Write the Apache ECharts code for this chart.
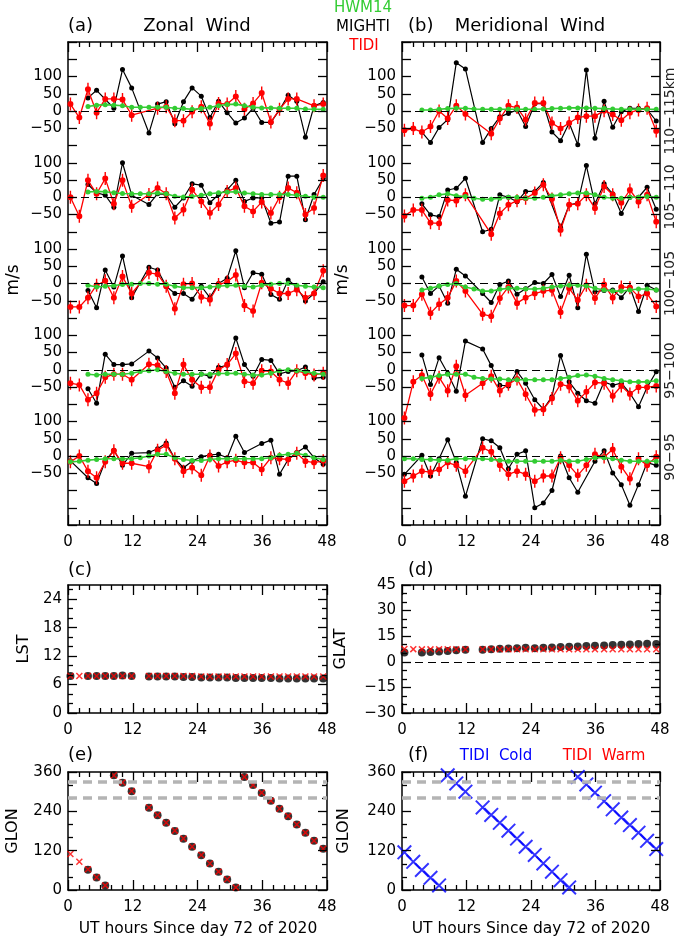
<!DOCTYPE html>
<html><head><meta charset="utf-8">
<script src="https://cdn.jsdelivr.net/npm/echarts@6/dist/echarts.min.js"></script>
<style>html,body{margin:0;padding:0;background:#fff}#c{width:676px;height:940px}</style>
</head><body><div id="c"></div>
<script>
// ---------------- DATA ----------------
const utHours = [0.45, 2.1, 3.7, 5.3, 6.9, 8.5, 10.1, 11.8, 13.4, 15.0, 16.6, 18.2, 19.8, 21.4, 23.0, 24.7, 26.3, 27.9, 29.5, 31.1, 32.7, 34.3, 35.9, 37.6, 39.2, 40.8, 42.4, 44.0, 45.6, 47.3];
const bandNames = ['90\u221295', '95\u2212100', '100\u2212105', '105\u2212110', '110\u2212115km']; // bottom -> top
const bandLabelValues = [-50, 0, 50, 100];
// tick marks
const xMajorTicks = [0, 12, 24, 36, 48];
const xAllTicks = [0, 2, 4, 6, 8, 10, 12, 14, 16, 18, 20, 22, 24, 26, 28, 30, 32, 34, 36, 38, 40, 42, 44, 46, 48];
const windYTicks = [-200, -150, -100, -50, 0, 50, 100, 150, 200, 250, 300, 350, 400, 450, 500, 550, 600, 650, 700, 750, 800, 850, 900, 950, 1000, 1050, 1100, 1150, 1200];
const lstMajor = [0, 6, 12, 18, 24];
const lstTicks = [0, 2, 4, 6, 8, 10, 12, 14, 16, 18, 20, 22, 24, 26];
const glatMajor = [-30, -15, 0, 15, 30, 45];
const glatTicks = [-30, -25, -20, -15, -10, -5, 0, 5, 10, 15, 20, 25, 30, 35, 40, 45];
const glonMajor = [0, 120, 240, 360];
const glonTicks = [0, 40, 80, 120, 160, 200, 240, 280, 320, 360];

// Zonal wind (panel a)
const zonalMIGHTI_110_115 = [null, null, 38, 60, null, 8, 120, 67, null, -64, 20, 27, -37, 27, 67, 43, -19, 28, -5, -35, -20, 8, -33, -33, 3, 46, 28, -76, 15, 25];
const zonalTIDI_110_115   = [20, -19, 63, -5, 35, 35, 33, -12, null, null, 8, 12, -28, -28, -2, 12, -37, 22, 20, 42, 5, 22, 52, -32, 5, 35, 35, null, 15, 20];
const zonalHWM_110_115    = [null, null, 13, 17, 18, 17, 15, 11, 11, 11, 11, 11, 8, 7, 5, 7, 11, 15, 19, 20, 15, 11, 9, 9, 8, 8, 8, 6, 5, 5];

const zonalMIGHTI_105_110 = [null, null, 37, 13, 6, -29, 100, 6, null, -21, 10, 8, -29, -2, 39, 35, -16, 8, 22, 49, -12, -2, -2, -75, -72, 61, 61, -65, 8, 54];
const zonalTIDI_105_110   = [0, -55, 49, 10, 54, -19, 49, -26, null, 8, 27, 10, -60, -36, 22, -12, -46, -21, 17, 27, -26, -41, -14, -46, 0, 27, 13, -50, -31, 63];
const zonalHWM_105_110    = [null, null, 15, 17, 16, 13, 11, 10, 10, 10, 12, 10, 3, 1, 2, 6, 10, 13, 15, 16, 12, 10, 8, 8, 8, 8, 6, 3, 0, 0];

const zonalMIGHTI_100_105 = [null, null, -20, -70, 39, -10, 80, -41, null, 47, 39, -8, -29, -29, -46, -8, -41, 0, 15, 95, -12, 31, 27, -32, -46, 10, -10, -51, -29, 5];
const zonalTIDI_100_105   = [-68, -68, -41, -5, 8, -41, 20, -29, null, 31, 27, -8, -73, -2, 0, -39, -47, -3, 5, 25, -64, -80, 2, -15, -29, -29, -18, -41, -29, 37];
const zonalHWM_100_105    = [null, null, -5, -10, -8, -6, -3, -2, 0, 0, -2, -2, -8, -12, -12, -12, -10, -8, -6, -5, -8, -10, -5, -2, 0, 0, -5, -8, -10, -12];

const zonalMIGHTI_95_100  = [null, null, -55, -97, 45, 15, 15, 17, null, 54, 34, 5, -51, -32, -48, -12, -19, 7, 13, 92, 15, -19, 30, 27, -12, -5, -3, 8, -24, -22];
const zonalTIDI_95_100    = [-39, -44, -87, -68, -22, -13, -13, -29, null, 16, 13, -5, -68, 15, -29, -51, -51, 0, 15, 47, -34, -39, -3, -5, -29, -39, -3, -10, -15, -10];
const zonalHWM_95_100     = [null, null, -13, -15, -13, -13, -13, -10, -5, -3, 0, -5, -10, -13, -13, -13, -13, -11, -11, -10, -13, -15, -15, -10, -3, 0, -3, -5, -10, -13];

const zonalMIGHTI_90_95   = [-14, null, -63, -80, -15, 17, -27, 8, null, 10, 21, 38, -8, -34, -15, -2, 3, 5, -5, 57, 10, null, 36, 46, -53, -10, 10, 26, -5, -24];
const zonalTIDI_90_95     = [-17, 0, -44, -63, -17, 15, -21, -21, null, -31, 17, 31, -8, -44, -34, -56, 0, -29, -17, -12, -19, -19, -39, -5, -8, -10, 8, -15, -19, -14];
const zonalHWM_90_95      = [-17, -15, -12, -10, -8, -8, -8, -8, -5, 0, 5, 5, -5, -10, -13, -13, -10, -8, -8, -8, -8, -8, -8, -5, 2, 5, 8, 2, -5, -10];

// Meridional wind (panel b)
const meridMIGHTI_110_115 = [null, null, -61, -91, -48, -25, 140, 122, null, -91, -51, -17, -7, 3, -45, 21, 21, -61, -86, -35, -98, 119, -79, 28, -47, -2, 8, 8, 5, -29];
const meridTIDI_110_115   = [-56, -51, -61, -45, 0, -22, 15, -9, null, null, -66, -22, 15, 10, -25, 23, 23, -35, -51, -35, -19, -15, -15, 1, -10, -27, -5, 3, 8, -58];
const meridHWM_110_115    = [null, null, 3, 3, 5, 7, 8, 8, 6, 5, 5, 5, 5, 5, 5, 5, 6, 7, 8, 9, 9, 9, 8, 7, 6, 5, 5, 5, 5, 5];

const meridMIGHTI_105_110 = [null, null, -19, -51, -56, 21, 26, 55, null, -100, -93, 7, 0, -13, 17, 17, 43, null, -87, -22, -17, 92, -19, 39, 10, -47, 0, 0, 29, -35];
const meridTIDI_105_110   = [-54, -37, -37, -74, -76, -8, -10, 7, null, null, -107, -47, -22, -10, -3, 12, 36, -5, -95, -22, -19, 7, -32, 31, 7, -16, 21, -13, 7, -71];
const meridHWM_105_110    = [null, null, -3, 0, 7, 10, 4, 2, -3, -6, -6, -3, 0, 0, -3, -3, 0, 4, 7, 10, 12, 12, 7, 0, -3, -3, 0, 0, 2, 0];

const meridMIGHTI_100_105 = [null, null, 19, -29, -7, -57, 41, 22, null, -29, -55, -3, 7, -31, -15, 3, 0, 26, -38, 24, -70, 85, -24, -20, -19, -41, -10, -81, -5, -19];
const meridTIDI_100_105   = [-64, -64, -31, -86, -60, -41, 7, -22, null, -89, -95, -43, -10, -57, -41, -29, -22, -19, -83, -14, -48, -5, -43, -3, -41, -10, -12, -38, -29, -67];
const meridHWM_100_105    = [null, null, -19, -14, -7, -3, 0, -10, -16, -22, -22, -17, -14, -14, -16, -16, -14, -10, -7, -5, -5, -7, -14, -19, -22, -22, -19, -16, -16, -19];

const meridMIGHTI_95_100  = [null, null, 43, -43, 35, -10, -62, 83, null, 60, 12, -45, -47, -5, -39, -87, -114, -78, 41, -35, -68, -90, -97, -35, -45, -39, -68, -107, -51, -6];
const meridTIDI_95_100    = [-140, -35, -16, -71, -22, -61, 10, -74, null, -39, -19, -61, -42, -27, -71, -117, -115, -83, -42, -49, -90, -64, -37, -39, -76, -47, -70, -51, -51, -47];
const meridHWM_95_100     = [null, null, -25, -22, -17, -13, -13, -13, -22, -25, -27, -27, -29, -29, -29, -29, -29, -29, -25, -22, -17, -15, -19, -25, -29, -32, -35, -35, -35, -32];

const meridMIGHTI_90_95   = [-53, null, 2, -58, -8, 47, -19, -117, null, 50, 44, 24, -37, 5, 15, -150, -136, -100, 0, -63, -105, null, -15, 15, -49, -83, -143, -83, -19, -27];
const meridTIDI_90_95     = [-73, -58, -44, -47, -39, -19, -27, -44, null, 24, 12, -27, -53, -44, -53, -73, -58, -58, -5, -27, -56, -27, 5, -3, 19, -31, -66, -8, -27, -2];
const meridHWM_90_95      = [-8, -8, -10, -10, -12, -12, -8, -8, -8, -8, -10, -12, -15, -15, -15, -15, -15, -15, -12, -15, -15, -10, -5, -5, -8, -12, -15, -15, -15, -15];

// Geometry (panels c-f)
const lstMIGHTI  = [7.8, null, 7.8, 7.8, 7.8, 7.8, 7.9, 7.8, null, 7.7, 7.7, 7.7, 7.7, 7.6, 7.6, 7.5, 7.5, 7.5, 7.5, 7.4, 7.4, 7.4, 7.4, 7.4, 7.3, 7.3, 7.3, 7.3, 7.3, 7.3];
const lstTIDI    = [7.8, 7.8, 7.8, 7.8, 7.8, 7.8, 7.8, 7.8, null, 7.8, 7.8, 7.8, 7.8, 7.8, 7.8, 7.7, 7.7, 7.7, 7.7, 7.7, 7.7, 7.7, 7.7, 7.7, 7.7, 7.7, 7.7, 7.7, 7.7, 7.7];
const glatMIGHTI = [5.5, null, 5.5, 5.8, 6.0, 6.3, 6.8, 7.0, null, 7.0, 7.3, 7.6, 7.8, 8.0, 8.2, 8.0, 8.2, 8.4, 8.6, 8.8, 9.0, 9.2, 9.4, 9.6, 9.8, 10.0, 10.2, 10.4, 10.6, 10.4];
const glatTIDI   = [7.5, 7.4, 7.3, 7.3, 7.3, 7.3, 7.3, 7.3, null, 7.3, 7.3, 7.3, 7.3, 7.3, 7.3, 7.3, 7.3, 7.3, 7.3, 7.3, 7.3, 7.3, 7.3, 7.3, 7.3, 7.3, 7.3, 7.3, 7.3, 7.3];
const glonMIGHTI = [null, null, 62, 38, 14, 350, 327, 301, null, 251, 228, 205, 180, 156, 132, 106, 81, 56, 32, 8, 345, 320, 296, 272, 248, 225, 200, 175, 150, 126];
const glonTIDI   = [110, 86, 63, 39, 14, 350, 328, 302, null, 252, 229, 205, 181, 157, 132, 107, 81, 56, 33, 8, 345, 320, 297, 272, 248, 226, 200, 175, 150, 126];
const glonTidiCold = [115, 86, 61, 37, 14, 350, 325, 300, null, 252, 229, 205, 181, 157, 132, 107, 81, 56, 30, 8, 345, 322, 297, 271, 246, 221, 198, 175, 150, 125];
const glonSiteLines = [330, 280];

// ---------------- CHART ----------------
const FONT = 'DejaVu Sans';
const GREEN = '#33cc33', RED = '#ff0000', BLUE = '#0000ff';
const ERRBAR = 'path://M-0.7,-6.5H0.7V6.5H-0.7Z M3,0A3,3 0 1 1 -3,0A3,3 0 1 1 3,0Z';
const SMALLX = 'path://M0,1.2L1.2,0L8,6.8L6.8,8Z M6.8,0L8,1.2L1.2,8L0,6.8Z';
const BIGX = 'path://M0,1.4L1.4,0L15,13.6L13.6,15Z M13.6,0L15,1.4L1.4,15L0,13.6Z';

const pts = arr => utHours.map((t, i) => [t, arr[i]]).filter(p => p[1] !== null);
const fmtNum = v => v < 0 ? '\u2212' + (-v) : String(v);

const grids = [], xAxes = [], yAxes = [], series = [], graphics = [];
const lineBlack = () => ({color: '#000', width: 1.5});
const labelBase = () => ({color: '#000', fontFamily: FONT, fontSize: 15});

function addGrid(left, top, width, height) {
  grids.push({left, top, width, height});
  return grids.length - 1;
}
function xBottom(gi) {
  xAxes.push({type: 'value', gridIndex: gi, min: 0, max: 48, interval: 12,
    axisLine: {show: true, onZero: false, lineStyle: lineBlack()},
    axisTick: {show: false}, minorTick: {show: false},
    axisLabel: Object.assign({show: true, margin: 10}, labelBase()),
    splitLine: {show: false}});
  return xAxes.length - 1;
}
function xTop(gi) {
  xAxes.push({type: 'value', gridIndex: gi, min: 0, max: 48, interval: 12, position: 'top',
    axisLine: {show: true, onZero: false, lineStyle: lineBlack()},
    axisTick: {show: false}, axisLabel: {show: false}, splitLine: {show: false}});
}
function xHidden(gi) {
  xAxes.push({type: 'value', gridIndex: gi, min: 0, max: 48, show: false});
  return xAxes.length - 1;
}
function yAxis(gi, pos, min, max, interval, opts) {
  yAxes.push(Object.assign({type: 'value', gridIndex: gi, min, max, interval, position: pos,
    axisLine: {show: true, onZero: false, lineStyle: lineBlack()},
    axisTick: {show: false}, minorTick: {show: false},
    axisLabel: {show: false}, splitLine: {show: false}}, opts || {}));
  return yAxes.length - 1;
}
// inside tick marks on all four sides, drawn as markLine segments in the panel's own data scale
function tickMarks(xi, yi, w, h, ymin, ymax, xVals, xMajor, yVals, yMajor, yMajLen, yMinLen) {
  const yPerPx = (ymax - ymin) / h, xPerPx = 48 / w;
  const segs = [];
  xVals.forEach(v => {
    const dy = (xMajor.indexOf(v) >= 0 ? 10 : 5) * yPerPx;
    segs.push([{coord: [v, ymin]}, {coord: [v, ymin + dy]}]);
    segs.push([{coord: [v, ymax]}, {coord: [v, ymax - dy]}]);
  });
  yVals.forEach(v => {
    const dx = (yMajor.indexOf(v) >= 0 ? yMajLen : yMinLen) * xPerPx;
    segs.push([{coord: [0, v]}, {coord: [dx, v]}]);
    segs.push([{coord: [48, v]}, {coord: [48 - dx, v]}]);
  });
  series.push({type: 'line', xAxisIndex: xi, yAxisIndex: yi, data: [[0, ymin]], z: 6, silent: true,
    symbol: 'none', showSymbol: false, lineStyle: {opacity: 0},
    markLine: {silent: true, symbol: 'none', label: {show: false},
      lineStyle: {color: '#000', type: 'solid', width: 1.3}, data: segs}});
}

function windPanel(left, width, bands) {
  bands.forEach((bd, b) => {
    const gi = addGrid(left, 42, width, 483);
    const xi = b === 0 ? xBottom(gi) : xHidden(gi);
    const min = -200 - 250 * b, max = 1200 - 250 * b;
    const yi = yAxis(gi, 'left', min, max, 50, {
      axisLine: {show: b === 0, onZero: false, lineStyle: lineBlack()},
      axisLabel: Object.assign({show: true, margin: 6,
        formatter: v => bandLabelValues.indexOf(v) >= 0 ? fmtNum(v) : ''}, labelBase())
    });
    if (b === 0) {
      xTop(gi); yAxis(gi, 'right', min, max, 50);
      tickMarks(xi, yi, width, 483, min, max, xAllTicks, xMajorTicks, windYTicks, windYTicks, 9, 9);
    }
    series.push({type: 'line', xAxisIndex: xi, yAxisIndex: yi, data: pts(bd.mighti), z: 2,
      symbol: 'circle', symbolSize: 5, itemStyle: {color: '#000'}, lineStyle: {color: '#000', width: 1.2},
      markLine: {silent: true, symbol: 'none', label: {show: false},
        lineStyle: {color: '#000', type: [8, 5], width: 1.2}, data: [{yAxis: 0}]}});
    series.push({type: 'line', xAxisIndex: xi, yAxisIndex: yi, data: pts(bd.tidi), z: 3,
      symbol: ERRBAR, symbolSize: [6, 13], itemStyle: {color: RED}, lineStyle: {color: RED, width: 1.3}});
    series.push({type: 'line', xAxisIndex: xi, yAxisIndex: yi, data: pts(bd.hwm), z: 4,
      symbol: 'circle', symbolSize: 5, itemStyle: {color: GREEN}, lineStyle: {color: GREEN, width: 1.6}});
  });
}

windPanel(68, 259, [
  {hwm: zonalHWM_90_95, mighti: zonalMIGHTI_90_95, tidi: zonalTIDI_90_95},
  {hwm: zonalHWM_95_100, mighti: zonalMIGHTI_95_100, tidi: zonalTIDI_95_100},
  {hwm: zonalHWM_100_105, mighti: zonalMIGHTI_100_105, tidi: zonalTIDI_100_105},
  {hwm: zonalHWM_105_110, mighti: zonalMIGHTI_105_110, tidi: zonalTIDI_105_110},
  {hwm: zonalHWM_110_115, mighti: zonalMIGHTI_110_115, tidi: zonalTIDI_110_115}
]);
windPanel(402, 258, [
  {hwm: meridHWM_90_95, mighti: meridMIGHTI_90_95, tidi: meridTIDI_90_95},
  {hwm: meridHWM_95_100, mighti: meridMIGHTI_95_100, tidi: meridTIDI_95_100},
  {hwm: meridHWM_100_105, mighti: meridMIGHTI_100_105, tidi: meridTIDI_100_105},
  {hwm: meridHWM_105_110, mighti: meridMIGHTI_105_110, tidi: meridTIDI_105_110},
  {hwm: meridHWM_110_115, mighti: meridMIGHTI_110_115, tidi: meridTIDI_110_115}
]);

function smallPanel(left, top, width, height, ymin, ymax, yint, labelVals, yTickVals) {
  const gi = addGrid(left, top, width, height);
  const xi = xBottom(gi);
  xTop(gi);
  const yi = yAxis(gi, 'left', ymin, ymax, yint, {
    axisLabel: Object.assign({show: true, margin: 6,
      formatter: v => labelVals.indexOf(v) >= 0 ? fmtNum(v) : ''}, labelBase())
  });
  yAxis(gi, 'right', ymin, ymax, yint);
  tickMarks(xi, yi, width, height, ymin, ymax, xAllTicks, xMajorTicks, yTickVals, labelVals, 9, 5);
  return {xi, yi};
}
function geoScatter(ax, mighti, tidi, extra) {
  series.push(Object.assign({type: 'scatter', xAxisIndex: ax.xi, yAxisIndex: ax.yi, data: pts(mighti), z: 3,
    symbol: 'circle', symbolSize: 8, itemStyle: {color: '#000'}}, extra || {}));
  series.push({type: 'scatter', xAxisIndex: ax.xi, yAxisIndex: ax.yi, data: pts(tidi), z: 4,
    symbol: SMALLX, symbolSize: 7, itemStyle: {color: RED}});
}
const zeroLine = () => ({markLine: {silent: true, symbol: 'none', label: {show: false},
  lineStyle: {color: '#000', type: [8, 5], width: 1.2}, data: [{yAxis: 0}]}});
const siteLines = () => ({markLine: {silent: true, symbol: 'none', label: {show: false},
  lineStyle: {color: '#b4b4b4', type: [9, 6], width: 3.5}, data: glonSiteLines.map(v => ({yAxis: v}))}});

const axC = smallPanel(68, 585, 259, 128, 0, 27, 6, lstMajor, lstTicks);
geoScatter(axC, lstMIGHTI, lstTIDI);
const axD = smallPanel(402, 585, 258, 128, -30, 45, 15, glatMajor, glatTicks);
geoScatter(axD, glatMIGHTI, glatTIDI, zeroLine());
const axE = smallPanel(68, 772, 259, 118, 0, 360, 120, glonMajor, glonTicks);
geoScatter(axE, glonMIGHTI, glonTIDI, siteLines());
const axF = smallPanel(402, 772, 258, 118, 0, 360, 120, glonMajor, glonTicks);
series.push(Object.assign({type: 'scatter', xAxisIndex: axF.xi, yAxisIndex: axF.yi, data: pts(glonTidiCold), z: 4,
  symbol: BIGX, symbolSize: 15, itemStyle: {color: BLUE}}, siteLines()));

// ---------------- TEXT ----------------
function txt(text, x, y, size, color, align, rot) {
  graphics.push({type: 'text', x, y, rotation: rot || 0, z: 100, silent: true,
    style: {text, fill: color || '#000', font: size + 'px "' + FONT + '"',
      textAlign: align || 'center', textVerticalAlign: 'middle', align: align || 'center', verticalAlign: 'middle'}});
}
txt('(a)', 68, 26, 18, '#000', 'left');
txt('Zonal  Wind', 197, 26, 18);
txt('(b)', 408, 26, 18, '#000', 'left');
txt('Meridional  Wind', 530, 26, 18);
txt('HWM14', 363, 8, 15, GREEN);
txt('MIGHTI', 363, 27, 15, '#000');
txt('TIDI', 364, 46, 15, RED);
txt('m/s', 14, 280, 17, '#000', 'center', Math.PI / 2);
txt('m/s', 343, 280, 17, '#000', 'center', Math.PI / 2);
const bandZeroY = [457, 370.5, 283.5, 197, 111];
bandNames.forEach((n, i) => txt(n, 670, bandZeroY[i], 14, '#222', 'center', Math.PI / 2));
txt('(c)', 68, 570, 18, '#000', 'left');
txt('(d)', 408, 570, 18, '#000', 'left');
txt('(e)', 68, 755, 18, '#000', 'left');
txt('(f)', 408, 755, 18, '#000', 'left');
txt('TIDI  Cold', 496, 756, 15, BLUE);
txt('TIDI  Warm', 604, 756, 15, RED);
txt('LST', 24, 649, 16, '#000', 'center', Math.PI / 2);
txt('GLAT', 341, 649, 16, '#000', 'center', Math.PI / 2);
txt('GLON', 13, 831, 16, '#000', 'center', Math.PI / 2);
txt('GLON', 344, 831, 16, '#000', 'center', Math.PI / 2);
txt('UT hours Since day 72 of 2020', 198, 929, 15.5);
txt('UT hours Since day 72 of 2020', 531, 929, 15.5);

const chart = echarts.init(document.getElementById('c'));
chart.setOption({
  animation: false,
  grid: grids, xAxis: xAxes, yAxis: yAxes, series: series, graphic: graphics
});
</script></body></html>
